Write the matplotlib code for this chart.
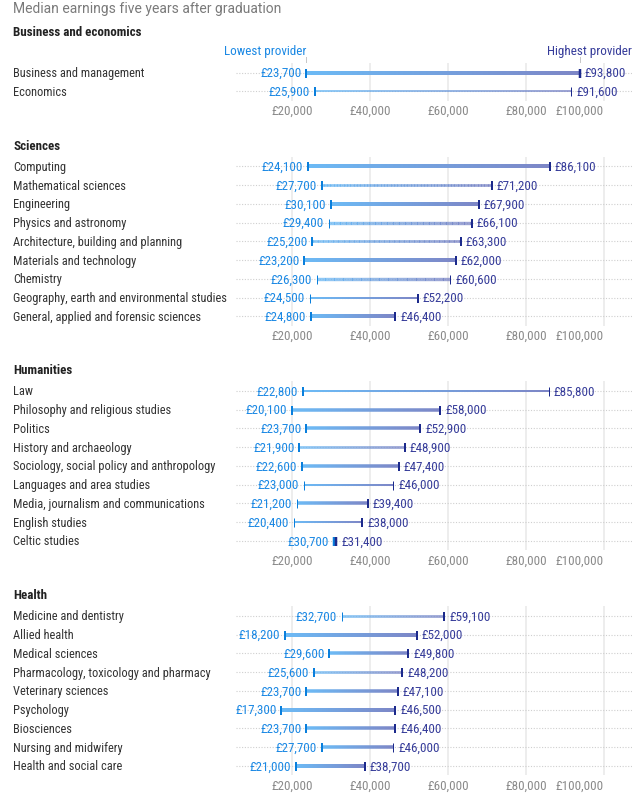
import numpy as np
import matplotlib
matplotlib.use("Agg")
import matplotlib.pyplot as plt
from matplotlib.collections import LineCollection
from matplotlib.colors import LinearSegmentedColormap
import matplotlib.transforms as mtransforms

# ---------------- data ----------------
title = "Median earnings five years after graduation"

biz_name = "Business and economics"
biz_labels = ["Business and management", "Economics"]
biz_low = [23700, 25900]
biz_high = [93800, 91600]
biz_size = [4, 1.5]
biz_lcap = [2, 2]
biz_hcap = [2.5, 1]

sci_name = "Sciences"
sci_labels = ["Computing", "Mathematical sciences", "Engineering", "Physics and astronomy",
              "Architecture, building and planning", "Materials and technology", "Chemistry",
              "Geography, earth and environmental studies", "General, applied and forensic sciences"]
sci_low = [24100, 27700, 30100, 29400, 25200, 23200, 26300, 24500, 24800]
sci_high = [86100, 71200, 67900, 66100, 63300, 62000, 60600, 52200, 46400]
sci_size = [4, 2.7, 4, 3.3, 2.7, 4, 3.3, 2, 4]
sci_lcap = [2, 2, 2, 1, 2, 2, 1, 1, 2]
sci_hcap = [2, 2, 2, 2, 2, 2, 1, 2, 2]

hum_name = "Humanities"
hum_labels = ["Law", "Philosophy and religious studies", "Politics", "History and archaeology",
              "Sociology, social policy and anthropology", "Languages and area studies",
              "Media, journalism and communications", "English studies", "Celtic studies"]
hum_low = [22800, 20100, 23700, 21900, 22600, 23000, 21200, 20400, 30700]
hum_high = [85800, 58000, 52900, 48900, 47400, 46000, 39400, 38000, 31400]
hum_size = [2, 3.5, 3.5, 2.7, 3.5, 2, 3.5, 2, 4]
hum_lcap = [2, 2, 2, 2, 2, 1, 1, 1, 2.5]
hum_hcap = [1, 2, 2, 2, 2, 1, 2, 2, 2.5]

hea_name = "Health"
hea_labels = ["Medicine and dentistry", "Allied health", "Medical sciences",
              "Pharmacology, toxicology and pharmacy", "Veterinary sciences", "Psychology",
              "Biosciences", "Nursing and midwifery", "Health and social care"]
hea_low = [32700, 18200, 29600, 25600, 23700, 17300, 23700, 27700, 21000]
hea_high = [59100, 52000, 49800, 48200, 47100, 46500, 46400, 46000, 38700]
hea_size = [2.7, 4, 3.5, 2.7, 3.5, 4, 3.5, 3.5, 4]
hea_lcap = [1, 2, 2, 2, 2, 2, 2, 2, 2]
hea_hcap = [2, 2, 2, 2, 2, 2, 2, 1, 2]

tick_values = [20000, 40000, 60000, 80000, 100000]
tick_labels = ["£20,000", "£40,000", "£60,000", "£80,000", "£100,000"]

# ---------------- style / layout ----------------
plt.rcParams["font.family"] = ["Roboto Condensed", "DejaVu Sans"]
W, H = 638, 804
PX = 72 / 100.0
FS = 9.4
FS_LAB = 8.95

fig = plt.figure(figsize=(W / 100, H / 100), dpi=100)
fig.patch.set_facecolor("white")

ROW = 18.75
AX_L, AX_R = 236, 632
X20, X100 = 292, 604
scale = (X100 - X20) / 80000.0
xmin = 20000 - (X20 - AX_L) / scale
xmax = 20000 + (AX_R - X20) / scale

cmap = LinearSegmentedColormap.from_list("bar", ["#6cbaf5", "#7d86c6"])
LOW_TXT = "#1a88e4"
HIGH_TXT = "#363c9a"
LOW_CAP = "#0a7fdc"
HIGH_CAP = "#1c2a8c"

fig.text(13 / W, 1 - 9 / H, title, fontsize=10.0, color="#7a7a7a",
         family=["Roboto", "DejaVu Sans"], ha="left", va="center")

sections = [
    (biz_name, biz_labels, biz_low, biz_high, biz_size, biz_lcap, biz_hcap, 32, 73.5),
    (sci_name, sci_labels, sci_low, sci_high, sci_size, sci_lcap, sci_hcap, 146, 167.3),
    (hum_name, hum_labels, hum_low, hum_high, hum_size, hum_lcap, hum_hcap, 371, 391.8),
    (hea_name, hea_labels, hea_low, hea_high, hea_size, hea_lcap, hea_hcap, 596, 616.8),
]

axes = []
for name, labels, low, high, size, lcap, hcap, hy, y0 in sections:
    n = len(labels)
    top = y0 - ROW / 2
    bottom = y0 + (n - 0.5) * ROW
    ax = fig.add_axes([AX_L / W, 1 - bottom / H, (AX_R - AX_L) / W, (bottom - top) / H])
    axes.append(ax)
    ax.set_xlim(xmin, xmax)
    ax.set_ylim(n - 0.5, -0.5)
    ax.set_facecolor("none")
    for s in ax.spines.values():
        s.set_visible(False)
    ax.set_yticks([])
    ax.set_xticks(tick_values, tick_labels)
    ax.tick_params(axis="x", length=0, pad=2.5, labelsize=FS, labelcolor="#8a8a8a")
    ax.get_xticklabels()[-1].set_horizontalalignment("right")

    fig.text(13 / W, 1 - hy / H, name, fontsize=FS, fontweight="bold", color="#222222",
             ha="left", va="center")

    for v in tick_values:
        ax.axvline(v, color="#e9e9e9", lw=1.6 * PX, zorder=0)

    lab_tr = mtransforms.blended_transform_factory(fig.transFigure, ax.transData)
    for i in range(n):
        ax.axhline(i, color="#cfcfcf", lw=0.8, ls=(0, (1, 1.5)), zorder=0.5)
        xs = np.linspace(low[i], high[i], 120)
        pts = np.column_stack([xs, np.full_like(xs, i)])
        segs = np.stack([pts[:-1], pts[1:]], axis=1)
        lc = LineCollection(segs, colors=cmap(np.linspace(0, 1, len(segs))),
                            linewidths=size[i] * PX, capstyle="butt", zorder=2)
        ax.add_collection(lc)
        ax.plot([low[i]], [i], marker="|", ms=9 * PX, mew=lcap[i] * PX, color=LOW_CAP, zorder=3)
        ax.plot([high[i]], [i], marker="|", ms=9 * PX, mew=hcap[i] * PX, color=HIGH_CAP, zorder=3)
        ax.annotate(f"£{low[i]:,}", xy=(low[i], i), xytext=(-5 * PX, 0),
                    textcoords="offset points", ha="right", va="center",
                    fontsize=FS, color=LOW_TXT)
        ax.annotate(f"£{high[i]:,}", xy=(high[i], i), xytext=(5 * PX, 0),
                    textcoords="offset points", ha="left", va="center",
                    fontsize=FS, color=HIGH_TXT)
        ax.text(13 / W, i, labels[i], transform=lab_tr, ha="left", va="center",
                fontsize=FS_LAB, color="#333333")

# legend-style annotations above first section
ax0 = axes[0]
tr = mtransforms.blended_transform_factory(ax0.transData, fig.transFigure)
ax0.text(biz_low[0], 1 - 52 / H, "Lowest provider", transform=tr, ha="right", va="center",
         fontsize=FS, color=LOW_TXT)
fig.text(AX_R / W, 1 - 52 / H, "Highest provider", ha="right", va="center",
         fontsize=FS, color=HIGH_TXT)
for v in (biz_low[0], biz_high[0]):
    ax0.plot([v, v], [1 - 58 / H, 1 - 63 / H], transform=tr, color="#c8c8c8", lw=1 * PX,
             clip_on=False)

fig.savefig("out.png", dpi=100, facecolor="white")
